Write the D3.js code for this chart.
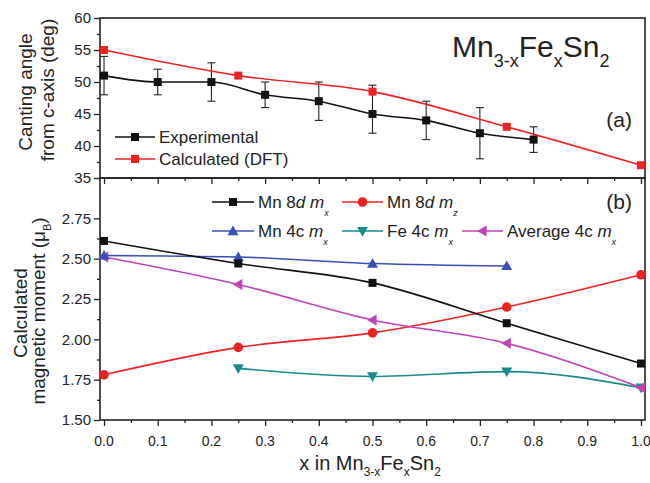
<!DOCTYPE html>
<html>
<head>
<meta charset="utf-8">
<script src="https://cdn.jsdelivr.net/npm/d3@7"></script>
<style>
  body { margin: 0; background: #fff; }
  text { font-family: "Liberation Sans", Arial, sans-serif; fill: #222; }
</style>
</head>
<body>
<div id="chart"></div>
<script>
"use-strict";

// top panel: canting angle
const expX = [0, 0.1, 0.2, 0.3, 0.4, 0.5, 0.6, 0.7, 0.8];
const expY = [51, 50, 50, 48, 47, 45, 44, 42, 41];
const expLo = [48, 48, 47, 46, 44, 42, 41, 38, 39];
const expHi = [54, 52, 53, 50, 50, 49.5, 47, 46, 43];
const dftX = [0, 0.25, 0.5, 0.75, 1.0];
const dftY = [55, 51, 48.5, 43, 37];

// bottom panel: magnetic moments
const momX = [0, 0.25, 0.5, 0.75, 1.0];
const mn8dMx = [2.61, 2.47, 2.35, 2.10, 1.85];
const mn8dMz = [1.78, 1.95, 2.04, 2.20, 2.40];
const mn4cX = [0, 0.25, 0.5, 0.75];
const mn4cMx = [2.52, 2.51, 2.47, 2.455];
const fe4cX = [0.25, 0.5, 0.75, 1.0];
const fe4cMx = [1.82, 1.77, 1.80, 1.70];
const avg4cMx = [2.51, 2.34, 2.12, 1.975, 1.70];

const xTicks = [0, 0.1, 0.2, 0.3, 0.4, 0.5, 0.6, 0.7, 0.8, 0.9, 1.0];
const topTicks = [35, 40, 45, 50, 55, 60];
const botTicks = [1.50, 1.75, 2.00, 2.25, 2.50, 2.75];

const msm = { width: 650, height: 483, left: 100, right: 645, top: 18, mid: 178, bottom: 420 };

const svg = d3.select("#chart").append("svg")
  .attr("width", msm.width).attr("height", msm.height);

const xScale = d3.scaleLinear().domain([-0.0075, 1.0075]).range([msm.left, msm.right]);
const yTop = d3.scaleLinear().domain([35, 60]).range([msm.mid, msm.top]);
const yBot = d3.scaleLinear().domain([1.5, 3.0]).range([msm.bottom, msm.mid]);

const colors = { black: "#111", red: "#ee2222", blue: "#3a4fb4", teal: "#1a8a8a", magenta: "#c044b4" };

function minorTicks(major, step) {
  let out = [];
  for (let i = 0; i < major.length - 1; i++) out.push(+(major[i] + step).toFixed(4));
  return out;
}

// axes
function drawPanel(yScale, ticks, minorStep, yTop0, yBot0, fmt) {
  // x ticks (outward, below panel)
  let xAxis = d3.axisBottom(xScale).tickValues(xTicks).tickSize(6).tickFormat("");
  let gx = svg.append("g").attr("transform", `translate(0,${yBot0})`).call(xAxis);
  let xMinor = d3.axisBottom(xScale).tickValues(minorTicks(xTicks, 0.05)).tickSize(3).tickFormat("");
  let gxm = svg.append("g").attr("transform", `translate(0,${yBot0})`).call(xMinor);
  [gx, gxm].forEach(g => { g.select(".domain").remove(); g.selectAll("line").attr("stroke", "#222").attr("stroke-width", 1.3); });

  let yAxis = d3.axisLeft(yScale).tickValues(ticks).tickSize(6).tickFormat(fmt);
  let gy = svg.append("g").attr("transform", `translate(${msm.left},0)`).call(yAxis);
  let yMinor = d3.axisLeft(yScale).tickValues(minorTicks(ticks, minorStep)).tickSize(3).tickFormat("");
  let gym = svg.append("g").attr("transform", `translate(${msm.left},0)`).call(yMinor);
  [gy, gym].forEach(g => { g.select(".domain").remove(); g.selectAll("line").attr("stroke", "#222").attr("stroke-width", 1.3); });
  gy.selectAll("text").attr("x", -9).style("font-size", "15px")
    .style("font-family", "'Liberation Sans', Arial, sans-serif").attr("fill", "#333");

  svg.append("rect")
    .attr("x", msm.left).attr("y", yTop0)
    .attr("width", msm.right - msm.left).attr("height", yBot0 - yTop0)
    .attr("fill", "none").attr("stroke", "#222").attr("stroke-width", 1.6);
}

drawPanel(yTop, topTicks, 2.5, msm.top, msm.mid, d3.format("d"));
drawPanel(yBot, botTicks, 0.125, msm.mid, msm.bottom, d3.format(".2f"));

// x tick labels
svg.append("g").selectAll("text")
  .data(xTicks).enter().append("text")
  .attr("x", d => xScale(d)).attr("y", 446)
  .attr("text-anchor", "middle").style("font-size", "14px").attr("fill", "#333")
  .text(d => d3.format(".1f")(d));

// line helpers
function drawSeries(xs, ys, yScale, color, marker) {
  let pts = xs.map((x, i) => [xScale(x), yScale(ys[i])]);
  svg.append("path")
    .attr("d", d3.line().curve(d3.curveMonotoneX)(pts))
    .attr("fill", "none").attr("stroke", color).attr("stroke-width", 1.6);
  pts.forEach(p => drawMarker(p[0], p[1], color, marker));
}

function drawMarker(x, y, color, marker) {
  let s = 8;
  if (marker === "square") {
    svg.append("rect").attr("x", x - s / 2).attr("y", y - s / 2)
      .attr("width", s).attr("height", s).attr("fill", color);
  } else if (marker === "circle") {
    svg.append("circle").attr("cx", x).attr("cy", y).attr("r", 4.8).attr("fill", color);
  } else {
    let h = 5.5;
    let pts;
    if (marker === "up") pts = [[x - h, y + h * 0.75], [x + h, y + h * 0.75], [x, y - h]];
    else if (marker === "down") pts = [[x - h, y - h * 0.75], [x + h, y - h * 0.75], [x, y + h]];
    else pts = [[x + h * 0.75, y - h], [x + h * 0.75, y + h], [x - h, y]];
    svg.append("polygon").attr("points", pts.map(p => p.join(",")).join(" ")).attr("fill", color);
  }
}

// error bars
expX.forEach((x, i) => {
  let cx = xScale(x);
  let g = svg.append("g").attr("stroke", "#222").attr("stroke-width", 1.1);
  g.append("line").attr("x1", cx).attr("x2", cx).attr("y1", yTop(expLo[i])).attr("y2", yTop(expHi[i]));
  g.append("line").attr("x1", cx - 4).attr("x2", cx + 4).attr("y1", yTop(expLo[i])).attr("y2", yTop(expLo[i]));
  g.append("line").attr("x1", cx - 4).attr("x2", cx + 4).attr("y1", yTop(expHi[i])).attr("y2", yTop(expHi[i]));
});

drawSeries(dftX, dftY, yTop, colors.red, "square");
drawSeries(expX, expY, yTop, colors.black, "square");

drawSeries(momX, mn8dMz, yBot, colors.red, "circle");
drawSeries(fe4cX, fe4cMx, yBot, colors.teal, "down");
drawSeries(momX, avg4cMx, yBot, colors.magenta, "left");
drawSeries(mn4cX, mn4cMx, yBot, colors.blue, "up");
drawSeries(momX, mn8dMx, yBot, colors.black, "square");

// rich text: parts [{t, sub, it}]
function richText(x, y, parts, size, anchor, subSize, subDrop) {
  let t = svg.append("text").attr("x", x).attr("y", y)
    .style("font-size", size + "px").attr("text-anchor", anchor || "start");
  let down = false;
  parts.forEach(p => {
    let ts = t.append("tspan").text(p.t);
    if (p.sub && !down) { ts.attr("dy", subDrop).style("font-size", subSize + "px"); down = true; }
    else if (!p.sub && down) { ts.attr("dy", -subDrop); down = false; }
    if (p.it) ts.style("font-style", "italic");
  });
  return t;
}

// legends
function legendItem(x1, x2, y, color, marker, parts) {
  svg.append("line").attr("x1", x1).attr("x2", x2).attr("y1", y).attr("y2", y)
    .attr("stroke", color).attr("stroke-width", 1.6);
  drawMarker((x1 + x2) / 2, y, color, marker);
  richText(x2 + 4, y + 6, parts, 17, "start", 9, 8);
}

legendItem(115, 155, 137, colors.black, "square", [{ t: "Experimental" }]);
legendItem(115, 155, 159, colors.red, "square", [{ t: "Calculated (DFT)" }]);

legendItem(212, 254, 202, colors.black, "square", [{ t: "Mn 8" }, { t: "d", it: true }, { t: " " }, { t: "m", it: true }, { t: "x", sub: true, it: true }]);
legendItem(342, 383, 202, colors.red, "circle", [{ t: "Mn 8" }, { t: "d", it: true }, { t: " " }, { t: "m", it: true }, { t: "z", sub: true, it: true }]);
legendItem(212, 254, 231, colors.blue, "up", [{ t: "Mn 4c " }, { t: "m", it: true }, { t: "x", sub: true, it: true }]);
legendItem(342, 383, 231, colors.teal, "down", [{ t: "Fe 4c " }, { t: "m", it: true }, { t: "x", sub: true, it: true }]);
legendItem(462, 503, 231, colors.magenta, "left", [{ t: "Average 4c " }, { t: "m", it: true }, { t: "x", sub: true, it: true }]);

// panel labels
richText(632, 127, [{ t: "(a)" }], 21, "end", 12, 6);
richText(632, 209, [{ t: "(b)" }], 21, "end", 12, 6);

// title
richText(452, 57, [{ t: "Mn" }, { t: "3-x", sub: true }, { t: "Fe" }, { t: "x", sub: true }, { t: "Sn" }, { t: "2", sub: true }], 30, "start", 18, 10);

// x axis title
richText(370, 470, [{ t: "x in Mn" }, { t: "3-x", sub: true }, { t: "Fe" }, { t: "x", sub: true }, { t: "Sn" }, { t: "2", sub: true }], 20, "middle", 12, 6);

// y axis titles
svg.append("text").attr("transform", "translate(32,92)rotate(-90)")
  .attr("text-anchor", "middle").style("font-size", "19px").text("Canting angle");
svg.append("text").attr("transform", "translate(54,90)rotate(-90)")
  .attr("text-anchor", "middle").style("font-size", "19px").text("from c-axis (deg)");

svg.append("text").attr("transform", "translate(27,313)rotate(-90)")
  .attr("text-anchor", "middle").style("font-size", "19px").text("Calculated");
let ml = svg.append("text").attr("transform", "translate(45,311)rotate(-90)")
  .attr("text-anchor", "middle").style("font-size", "19px");
ml.append("tspan").text("magnetic moment (\u03bc");
ml.append("tspan").text("B").attr("dy", 6).style("font-size", "11px");
ml.append("tspan").text(")").attr("dy", -6);
</script>
</body>
</html>
